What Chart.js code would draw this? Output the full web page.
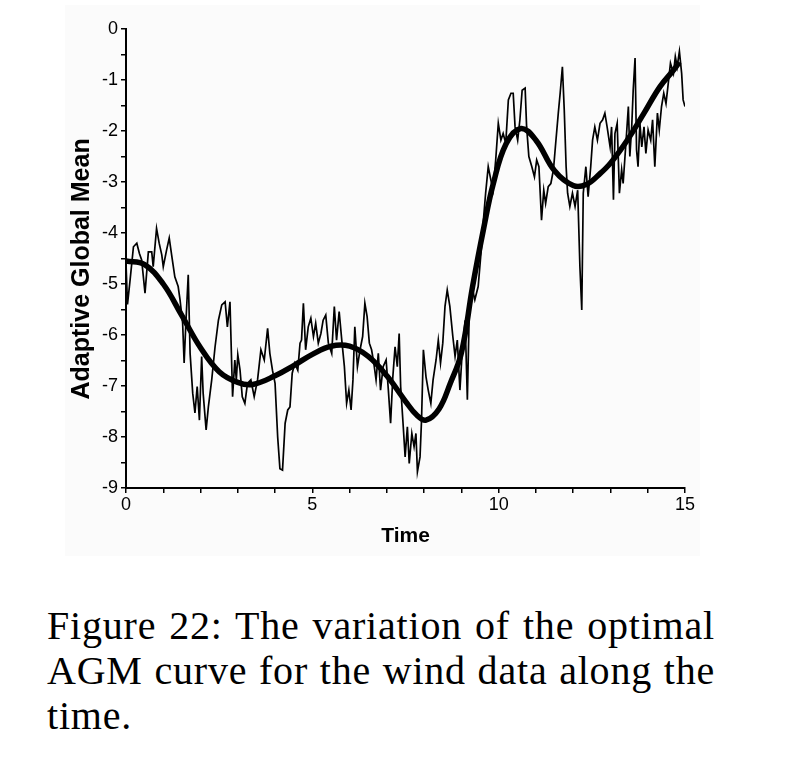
<!DOCTYPE html>
<html>
<head>
<meta charset="utf-8">
<script src="https://cdn.jsdelivr.net/npm/chart.js@4.4.1/dist/chart.umd.min.js"></script>
<style>
  body { margin: 0; background: #fff; width: 785px; height: 762px; position: relative; overflow: hidden; }
  #panel { position: absolute; left: 65px; top: 5px; width: 635px; height: 551px; background: #fbfbfb; }
  #wrap { position: absolute; left: 0; top: 0; width: 785px; height: 580px; }
  .cap { position: absolute; left: 47px; width: 668px; font-family: "Liberation Serif", "Times New Roman", serif;
         font-size: 40px; letter-spacing: 0.8px; line-height: 45px; color: #000; white-space: nowrap; }
  .just { text-align: justify; text-align-last: justify; white-space: normal; }
</style>
</head>
<body>
<div id="panel"></div>
<div id="wrap"><canvas id="agmChart"></canvas></div>
<div class="cap just" style="top:603px">Figure 22: The variation of the optimal</div>
<div class="cap just" style="top:648px">AGM curve for the wind data along the</div>
<div class="cap" style="top:693px">time.</div>
<script>
// wind data (thin line)
const noisyTime = [0, 0.04, 0.11, 0.2, 0.29, 0.36, 0.42, 0.51, 0.6, 0.69, 0.73, 0.82, 0.89, 0.96, 1.0, 1.09, 1.16, 1.23, 1.31, 1.4,
  1.45, 1.52, 1.56, 1.61, 1.67, 1.72, 1.79, 1.85, 1.91, 1.97, 2.03, 2.07, 2.15, 2.21, 2.3, 2.39, 2.48, 2.57, 2.66, 2.72,
  2.79, 2.86, 2.92, 2.96, 3.0, 3.06, 3.12, 3.19, 3.26, 3.35, 3.44, 3.53, 3.62, 3.71, 3.8, 3.86, 3.93, 4.0, 4.07, 4.13,
  4.2, 4.27, 4.34, 4.4, 4.46, 4.53, 4.61, 4.67, 4.71, 4.76, 4.82, 4.89, 4.96, 5.03, 5.09, 5.16, 5.23, 5.29, 5.36, 5.43,
  5.52, 5.59, 5.65, 5.72, 5.79, 5.86, 5.92, 5.98, 6.04, 6.09, 6.14, 6.21, 6.28, 6.35, 6.41, 6.47, 6.53, 6.59, 6.65, 6.71,
  6.77, 6.83, 6.9, 6.98, 7.04, 7.1, 7.16, 7.22, 7.28, 7.33, 7.37, 7.44, 7.49, 7.55, 7.6, 7.67, 7.73, 7.78, 7.82, 7.89,
  7.93, 7.98, 8.05, 8.11, 8.18, 8.24, 8.32, 8.38, 8.44, 8.5, 8.56, 8.62, 8.69, 8.77, 8.83, 8.89, 8.96, 9.03, 9.1, 9.16,
  9.21, 9.28, 9.36, 9.45, 9.54, 9.59, 9.65, 9.72, 9.79, 9.85, 9.92, 9.99, 10.06, 10.12, 10.19, 10.26, 10.33, 10.39, 10.44, 10.51,
  10.57, 10.63, 10.71, 10.75, 10.81, 10.89, 10.96, 11.02, 11.08, 11.15, 11.21, 11.26, 11.33, 11.4, 11.47, 11.53, 11.6, 11.65, 11.71, 11.76,
  11.81, 11.85, 11.91, 11.98, 12.05, 12.12, 12.18, 12.23, 12.27, 12.34, 12.4, 12.47, 12.52, 12.58, 12.65, 12.72, 12.79, 12.85, 12.91, 12.99,
  13.03, 13.08, 13.12, 13.18, 13.24, 13.3, 13.34, 13.42, 13.48, 13.52, 13.57, 13.61, 13.66, 13.7, 13.74, 13.79, 13.84, 13.9, 13.95, 14.01,
  14.08, 14.13, 14.19, 14.26, 14.31, 14.37, 14.43, 14.49, 14.55, 14.61, 14.69, 14.74, 14.79, 14.85, 14.91, 14.95, 15.0];
const noisyValue = [-4.6, -5.4, -4.92, -4.27, -4.2, -4.4, -4.53, -5.18, -4.37, -4.37, -4.66, -3.91, -4.2, -4.43, -4.66, -4.33, -4.1, -4.46, -4.86, -5.05,
  -5.31, -5.77, -6.55, -5.71, -4.82, -6.36, -7.14, -7.53, -7.01, -7.67, -6.42, -7.14, -7.86, -7.41, -6.88, -6.23, -5.71, -5.41, -5.35, -5.84,
  -5.35, -7.21, -6.49, -6.88, -6.39, -6.69, -7.21, -7.34, -6.95, -6.88, -7.21, -6.88, -6.29, -6.49, -5.87, -6.36, -6.69, -6.95, -8.0, -8.62,
  -8.65, -7.73, -7.47, -7.41, -6.75, -6.55, -6.69, -6.16, -6.1, -5.38, -6.29, -5.84, -5.67, -6.03, -5.77, -6.16, -5.97, -5.71, -5.61, -6.16,
  -6.36, -5.44, -6.1, -5.54, -6.1, -6.62, -7.34, -7.08, -7.47, -6.88, -5.84, -6.62, -6.29, -6.03, -5.38, -5.64, -6.16, -6.29, -6.55, -6.88,
  -6.36, -7.08, -6.62, -6.49, -7.08, -7.73, -6.82, -6.23, -6.62, -5.97, -7.01, -7.8, -8.39, -7.8, -8.52, -7.93, -8.19, -7.93, -8.68, -8.39,
  -7.67, -6.29, -6.82, -7.08, -7.34, -6.88, -6.49, -6.1, -6.55, -6.16, -5.44, -5.12, -5.44, -6.03, -6.42, -6.1, -7.08, -6.23, -5.71, -7.27,
  -5.58, -5.05, -5.31, -5.05, -4.27, -3.75, -3.22, -2.7, -2.96, -3.16, -2.57, -1.85, -2.18, -2.05, -2.24, -1.39, -1.26, -1.26, -1.92, -2.18,
  -1.78, -1.2, -1.16, -1.92, -2.5, -2.7, -2.9, -2.57, -2.7, -3.75, -3.16, -3.42, -3.09, -3.03, -2.76, -2.24, -1.65, -1.26, -0.74, -1.59,
  -2.7, -3.22, -3.48, -3.22, -3.48, -3.16, -4.66, -5.51, -3.22, -2.7, -3.29, -2.7, -2.18, -1.92, -2.18, -1.85, -1.78, -1.65, -1.92, -2.31,
  -1.92, -3.35, -2.05, -1.85, -3.22, -2.76, -3.03, -2.18, -1.52, -2.5, -1.92, -1.2, -0.57, -2.37, -2.7, -1.85, -2.31, -1.92, -2.44, -1.98,
  -2.18, -1.78, -2.7, -1.65, -1.98, -1.52, -1.26, -1.46, -1.07, -0.67, -0.87, -0.54, -0.74, -0.44, -0.87, -1.39, -1.52];

// optimal AGM curve (thick line)
const agmTime = [0, 0.5, 1.0, 1.5, 2.0, 2.5, 3.0, 3.4, 4.0, 4.5, 5.0, 5.5, 6.0, 6.5, 7.0, 7.5, 7.8, 8.05, 8.4, 8.7,
  9.0, 9.3, 9.6, 9.85, 10.2, 10.6, 11.0, 11.5, 12.0, 12.35, 12.7, 13.0, 13.45, 13.9, 14.33, 14.7, 14.85];
const agmValue = [-4.55, -4.62, -5.0, -5.62, -6.25, -6.72, -6.93, -6.97, -6.8, -6.6, -6.38, -6.22, -6.22, -6.42, -6.8, -7.3, -7.57, -7.67, -7.45, -6.95,
  -6.35, -5.05, -3.9, -3.05, -2.25, -1.95, -2.18, -2.78, -3.07, -3.05, -2.85, -2.63, -2.18, -1.65, -1.13, -0.8, -0.65];

const xLabels = [0, 5, 10, 15];
const yLabels = [0, -1, -2, -3, -4, -5, -6, -7, -8, -9];

const noisyPts = noisyTime.map((t, i) => ({ x: t, y: noisyValue[i] }));
const agmPts = agmTime.map((t, i) => ({ x: t, y: agmValue[i] }));

const tickFont = { family: "'Liberation Sans', Arial, sans-serif", size: 18 };
const titleFamily = "'Liberation Sans', Arial, sans-serif";

new Chart(document.getElementById("agmChart"), {
  type: "line",
  data: {
    datasets: [
      {
        data: agmPts,
        borderColor: "#000",
        borderWidth: 5.5,
        pointRadius: 0,
        tension: 0.4,
        fill: false
      },
      {
        data: noisyPts,
        borderColor: "#000",
        borderWidth: 1.7,
        pointRadius: 0,
        tension: 0,
        fill: false
      }
    ]
  },
  options: {
    responsive: true,
    maintainAspectRatio: false,
    animation: false,
    layout: { padding: { left: 65, top: 29, right: 100, bottom: 0 } },
    plugins: { legend: { display: false }, tooltip: { enabled: false } },
    scales: {
      x: {
        type: "linear",
        min: 0,
        max: 15,
        afterFit: (scale) => { scale.height = 92; },
        border: { display: true, color: "#000", width: 2 },
        grid: { drawOnChartArea: false, drawTicks: true, tickLength: 5, color: "#000", lineWidth: 1.5 },
        ticks: {
          stepSize: 1,
          padding: 1,
          color: "#000",
          font: tickFont,
          maxRotation: 0,
          autoSkip: false,
          callback: (v) => (xLabels.includes(v) ? String(v) : "")
        },
        title: {
          display: true,
          text: "Time",
          color: "#000",
          font: { family: titleFamily, size: 21, weight: "bold" },
          padding: { top: 0, bottom: 31 }
        }
      },
      y: {
        min: -9,
        max: 0,
        afterFit: (scale) => { scale.width = 61; },
        border: { display: true, color: "#000", width: 2 },
        grid: { drawOnChartArea: false, drawTicks: true, tickLength: 5, color: "#000", lineWidth: 1.5 },
        ticks: {
          stepSize: 0.5,
          padding: 3,
          color: "#000",
          font: tickFont,
          autoSkip: false,
          callback: (v) => (yLabels.includes(v) ? String(v) : "")
        },
        title: {
          display: true,
          text: "Adaptive Global Mean\u00a0\u00a0\u00a0",
          color: "#000",
          font: { family: titleFamily, size: 25, weight: "bold" },
          padding: { top: 2, bottom: 0 }
        }
      }
    }
  }
});
</script>
</body>
</html>
